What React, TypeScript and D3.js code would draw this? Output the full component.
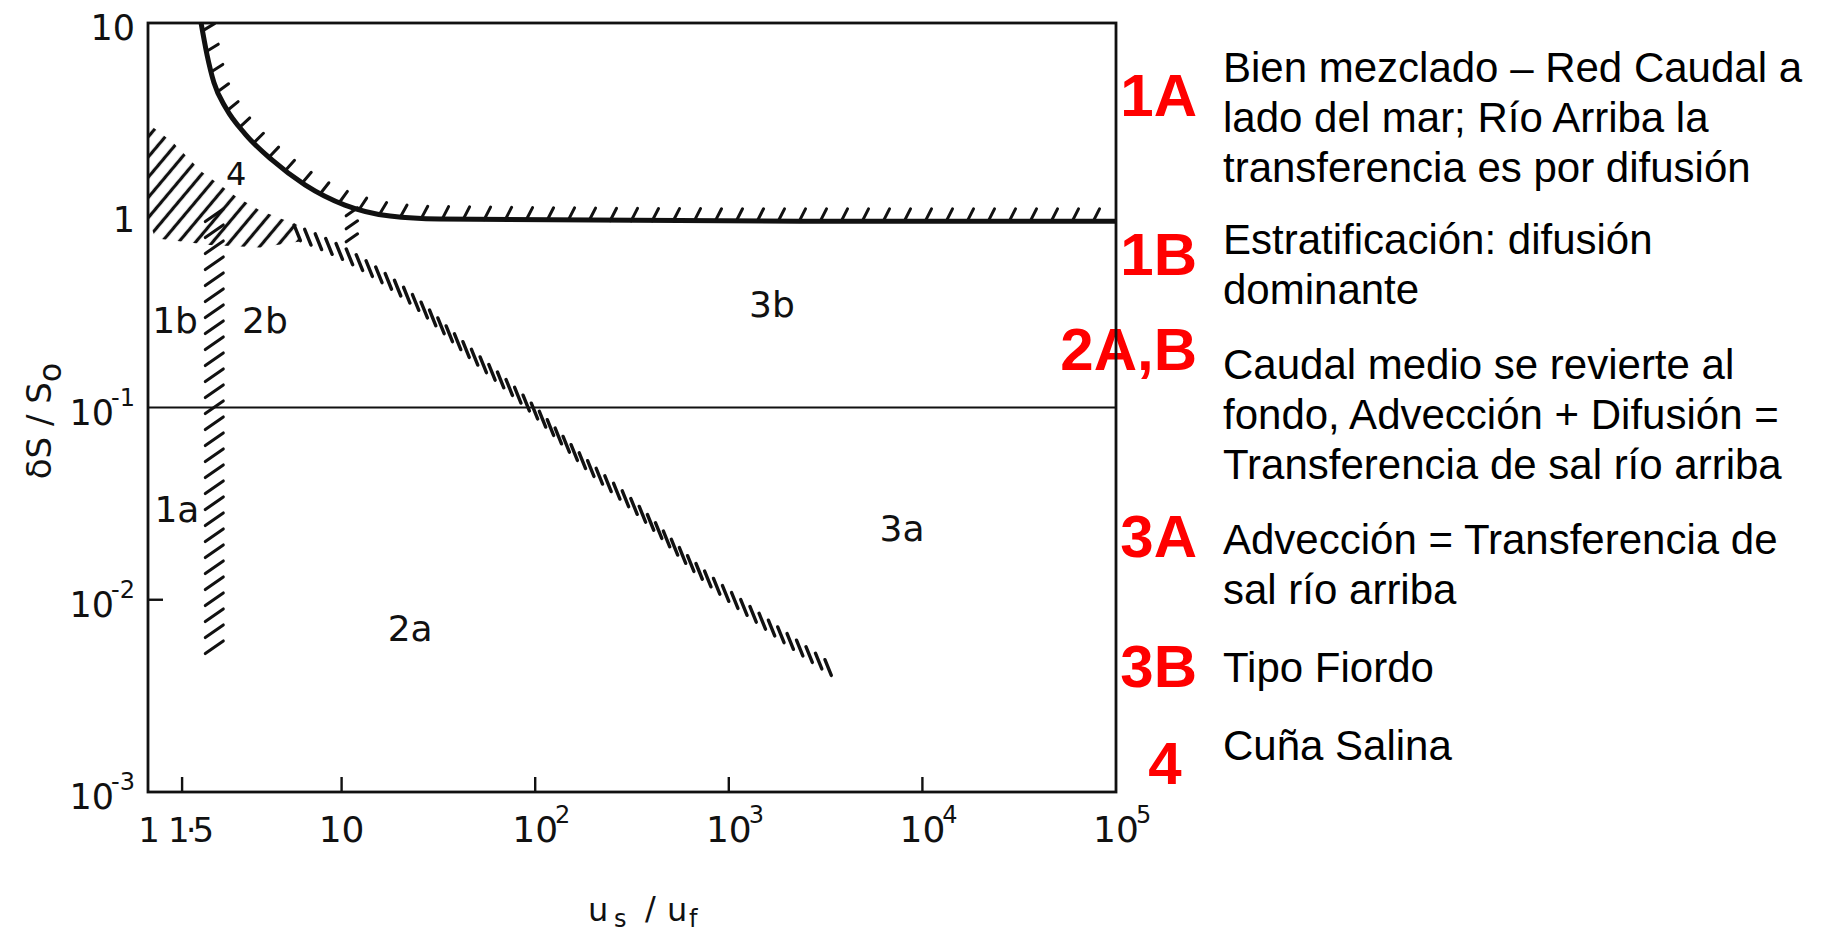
import { useEffect, useRef } from "react";
import * as d3 from "d3";

// axis ticks
const xTickValues = [1, 1.5, 10, 100, 1000, 10000, 100000];
const xTickBase = ["1", "1·5", "10", "10", "10", "10", "10"];
const xTickExp = ["", "", "", "2", "3", "4", "5"];
const yTickValues = [10, 1, 0.1, 0.01, 0.001];
const yTickBase = ["10", "1", "10", "10", "10"];
const yTickExp = ["", "", "-1", "-2", "-3"];

// bold boundary, hatched on its upper side
const upperX = [1.88, 2.02, 2.19, 2.53, 3.17, 4.37, 6.47, 10.4, 17.8, 32, 2330, 100000];
const upperY = [10, 6.8, 4.9, 3.6, 2.65, 1.94, 1.44, 1.13, 0.99, 0.955, 0.93, 0.93];

// diagonal hatched band
const bandX = [5.9, 10.9, 22, 44, 95, 175, 348, 700, 1400, 3300];
const bandY = [0.81, 0.61, 0.38, 0.2, 0.1, 0.053, 0.0286, 0.0141, 0.0081, 0.0044];

// salt wedge hatched area: upper edge, then lower edge back to the axis
const wedgeUpperX = [1, 1.35, 1.9, 2.88, 3.79, 6.1];
const wedgeUpperY = [3.0, 2.38, 1.68, 1.24, 1.06, 0.88];
const wedgeLowerX = [6.1, 3.79, 2.09, 1.09, 1];
const wedgeLowerY = [0.73, 0.68, 0.7, 0.76, 0.97];

// vertical hatched boundary and short link near us/uf = 10
const splitX = 2.2;
const splitY = [1.0, 0.0052];
const linkX = 11.3;
const linkY = [1.08, 0.72];
const midLineY = 0.1;

// region labels
const regionNames = ["4", "1b", "2b", "1a", "2a", "3b", "3a"];
const regionX = [2.85, 1.38, 4.02, 1.41, 22.6, 1670, 7850];
const regionY = [1.64, 0.285, 0.285, 0.0293, 0.00705, 0.345, 0.0236];

// legend
const legendKeys = ["1A", "1B", "2A,B", "3A", "3B", "4"];
const legendText = [
    ["Bien mezclado – Red Caudal a", "lado del mar; Río Arriba la", "transferencia es por difusión"],
    ["Estratificación: difusión", "dominante"],
    ["Caudal medio se revierte al", "fondo, Advección + Difusión =", "Transferencia de sal río arriba"],
    ["Advección = Transferencia de", "sal río arriba"],
    ["Tipo Fiordo"],
    ["Cuña Salina"],
];
const legendKeyY = [95, 254, 349, 536, 666, 763];
const legendTextY = [67, 239, 364, 539, 667, 745];

const FONT = "'Liberation Sans', Arial, sans-serif";
const DRAW_FONT = "'DejaVu Sans', sans-serif";

type Mark = [number, number, number, number];

function marksAlong(
    node: SVGPathElement,
    step: number,
    start: number,
    fn: (px: number, py: number, tx: number, ty: number) => Mark
): Mark[] {
    const L = node.getTotalLength();
    const out: Mark[] = [];
    for (let s = start; s <= L; s += step) {
        const a = node.getPointAtLength(Math.max(0, s - 1));
        const b = node.getPointAtLength(Math.min(L, s + 1));
        const p = node.getPointAtLength(s);
        let tx = b.x - a.x;
        let ty = b.y - a.y;
        const n = Math.hypot(tx, ty) || 1;
        tx /= n;
        ty /= n;
        out.push(fn(p.x, p.y, tx, ty));
    }
    return out;
}

export default function App() {
    const svgRef = useRef<SVGSVGElement | null>(null);

    useEffect(() => {
        if (!svgRef.current) return;
        const svg = d3.select(svgRef.current);
        svg.selectAll("*").remove();

        const x = d3.scaleLog().domain([1, 1e5]).range([148, 1116]);
        const y = d3.scaleLog().domain([1e-3, 10]).range([792, 23]);

        const line = d3
            .line<[number, number]>()
            .x((d) => x(d[0]))
            .y((d) => y(d[1]));

        const drawMarks = (g: any, marks: Mark[], width: number) => {
            g.selectAll(null)
                .data(marks)
                .enter()
                .append("line")
                .attr("x1", (d: Mark) => d[0])
                .attr("y1", (d: Mark) => d[1])
                .attr("x2", (d: Mark) => d[2])
                .attr("y2", (d: Mark) => d[3])
                .attr("stroke", "#111")
                .attr("stroke-width", width)
                .attr("stroke-linecap", "round");
        };

        // Legend (drawn first, the frame runs over it)
        const legend = svg.append("g");
        legendKeys.forEach((k, i) => {
            legend
                .append("text")
                .attr("x", k === "4" ? 1165 : 1197)
                .attr("y", legendKeyY[i])
                .attr("dominant-baseline", "central")
                .attr("text-anchor", k === "4" ? "middle" : "end")
                .attr("font-family", FONT)
                .attr("font-weight", "bold")
                .attr("font-size", 60)
                .attr("fill", "#ff0000")
                .text(k);
            legendText[i].forEach((t, j) => {
                legend
                    .append("text")
                    .attr("x", 1223)
                    .attr("y", legendTextY[i] + j * 50)
                    .attr("dominant-baseline", "central")
                    .attr("font-family", FONT)
                    .attr("font-size", 42)
                    .attr("fill", "#000")
                    .text(t);
            });
        });

        // Frame and the 10^-1 line
        svg.append("rect")
            .attr("x", x(1))
            .attr("y", y(10))
            .attr("width", x(1e5) - x(1))
            .attr("height", y(1e-3) - y(10))
            .attr("fill", "none")
            .attr("stroke", "#111")
            .attr("stroke-width", 2.8);

        svg.append("line")
            .attr("x1", x(1))
            .attr("x2", x(1e5))
            .attr("y1", y(midLineY))
            .attr("y2", y(midLineY))
            .attr("stroke", "#111")
            .attr("stroke-width", 2.2);

        // Ticks
        const inner = xTickValues.filter((v) => v > 1 && v < 1e5);
        svg.selectAll(".xt")
            .data(inner)
            .enter()
            .append("line")
            .attr("x1", (d) => x(d))
            .attr("x2", (d) => x(d))
            .attr("y1", y(1e-3))
            .attr("y2", y(1e-3) - 15)
            .attr("stroke", "#111")
            .attr("stroke-width", 2.4);
        svg.append("line")
            .attr("x1", x(1))
            .attr("x2", x(1) + 15)
            .attr("y1", y(0.01))
            .attr("y2", y(0.01))
            .attr("stroke", "#111")
            .attr("stroke-width", 2.4);

        // Tick labels
        xTickValues.forEach((v, i) => {
            if (v === 1.5) {
                svg.append("text")
                    .attr("x", x(v) - 14)
                    .attr("y", 842)
                    .attr("font-family", DRAW_FONT)
                    .attr("font-size", 34)
                    .attr("letter-spacing", -4)
                    .attr("fill", "#111")
                    .text(xTickBase[i]);
                return;
            }
            const base = svg
                .append("text")
                .attr("x", x(v) + (v === 1 ? 1 : 0))
                .attr("y", 842)
                .attr("text-anchor", "middle")
                .attr("font-family", DRAW_FONT)
                .attr("font-size", v === 1 ? 34 : 36)
                .attr("fill", "#111")
                .text(xTickBase[i]);
            if (xTickExp[i]) {
                const w = (base.node() as SVGTextElement).getComputedTextLength();
                svg.append("text")
                    .attr("x", x(v) + w / 2 - 3)
                    .attr("y", 823)
                    .attr("font-family", DRAW_FONT)
                    .attr("font-size", 24)
                    .attr("fill", "#111")
                    .text(xTickExp[i]);
            }
        });

        yTickValues.forEach((v, i) => {
            const t = svg
                .append("text")
                .attr("x", 135)
                .attr("y", y(v) + 17)
                .attr("text-anchor", "end")
                .attr("font-family", DRAW_FONT)
                .attr("font-size", 35)
                .attr("fill", "#111");
            t.append("tspan").text(yTickBase[i]);
            if (yTickExp[i]) {
                t.append("tspan")
                    .attr("dy", -19)
                    .attr("dx", -3)
                    .attr("font-size", 24)
                    .text(yTickExp[i]);
            }
        });

        // Axis titles
        const yl = svg
            .append("text")
            .attr("transform", "translate(51,421) rotate(-90)")
            .attr("text-anchor", "middle")
            .attr("font-family", DRAW_FONT)
            .attr("font-size", 34)
            .attr("fill", "#111");
        yl.append("tspan").text("δS / S");
        yl.append("tspan").attr("dy", 10).attr("font-size", 32).text("o");

        const xl = svg
            .append("g")
            .attr("font-family", DRAW_FONT)
            .attr("fill", "#111");
        xl.append("text").attr("x", 588).attr("y", 921).attr("font-size", 32).text("u");
        xl.append("text").attr("x", 614).attr("y", 927).attr("font-size", 24).text("s");
        xl.append("text").attr("x", 645).attr("y", 919).attr("font-size", 32).text("/");
        xl.append("text").attr("x", 667).attr("y", 921).attr("font-size", 32).text("u");
        xl.append("text").attr("x", 689).attr("y", 927).attr("font-size", 24).text("f");

        // Salt-wedge hatched area
        const defs = svg.append("defs");
        const pat = defs
            .append("pattern")
            .attr("id", "wedgeHatch")
            .attr("patternUnits", "userSpaceOnUse")
            .attr("width", 13)
            .attr("height", 13)
            .attr("patternTransform", "rotate(40)");
        pat.append("line")
            .attr("x1", 6.5)
            .attr("x2", 6.5)
            .attr("y1", 0)
            .attr("y2", 13)
            .attr("stroke", "#111")
            .attr("stroke-width", 3.2);

        const wedgePts: [number, number][] = [
            ...wedgeUpperX.map((v, i) => [v, wedgeUpperY[i]] as [number, number]),
            ...wedgeLowerX.map((v, i) => [v, wedgeLowerY[i]] as [number, number]),
        ];
        svg.append("path")
            .attr("d", line(wedgePts) + "Z")
            .attr("fill", "url(#wedgeHatch)")
            .attr("stroke", "none");

        const g = svg.append("g");

        // Bold upper boundary with hatch on the upper side
        const upperPts = upperX.map((v, i) => [v, upperY[i]] as [number, number]);
        const upperPath = svg
            .append("path")
            .attr("d", line.curve(d3.curveMonotoneX)(upperPts) as string)
            .attr("fill", "none")
            .attr("stroke", "#111")
            .attr("stroke-width", 5);
        const upperMarks = marksAlong(upperPath.node() as SVGPathElement, 21, 8, (px, py, tx, ty) => {
            const a = Math.atan2(tx, ty);
            const m = 0.4 * a + 0.6 * (Math.PI / 4);
            return [px, py, px + 14 * Math.cos(m), py - 14 * Math.sin(m)];
        });
        drawMarks(g, upperMarks.filter((d) => d[0] < x(1e5) - 10), 3);

        // Diagonal band
        const bandPts = bandX.map((v, i) => [v, bandY[i]] as [number, number]);
        const bandPath = svg
            .append("path")
            .attr("d", line.curve(d3.curveMonotoneX)(bandPts) as string)
            .attr("fill", "none")
            .attr("stroke", "none");
        const ca = Math.cos((68 * Math.PI) / 180);
        const sa = Math.sin((68 * Math.PI) / 180);
        const bandMarks = marksAlong(bandPath.node() as SVGPathElement, 11.5, 0, (px, py) => [
            px - 8.5 * ca,
            py - 8.5 * sa,
            px + 8.5 * ca,
            py + 8.5 * sa,
        ]);
        drawMarks(g, bandMarks, 3.4);

        // Vertical hatched boundary
        const cb = Math.cos((35 * Math.PI) / 180);
        const sb = Math.sin((35 * Math.PI) / 180);
        const splitPath = svg
            .append("path")
            .attr("d", line.curve(d3.curveLinear)(splitY.map((v) => [splitX, v] as [number, number])) as string)
            .attr("stroke", "none");
        drawMarks(
            g,
            marksAlong(splitPath.node() as SVGPathElement, 16, 0, (px, py) => [
                px - 11 * cb,
                py + 11 * sb,
                px + 11 * cb,
                py - 11 * sb,
            ]),
            3
        );

        const linkPath = svg
            .append("path")
            .attr("d", line(linkY.map((v) => [linkX, v] as [number, number])) as string)
            .attr("stroke", "none");
        drawMarks(
            g,
            marksAlong(linkPath.node() as SVGPathElement, 13, 3, (px, py) => [
                px - 7 * cb,
                py + 7 * sb,
                px + 7 * cb,
                py - 7 * sb,
            ]),
            3
        );

        // Region labels
        svg.selectAll(".region")
            .data(regionNames)
            .enter()
            .append("text")
            .attr("x", (d, i) => x(regionX[i]))
            .attr("y", (d, i) => y(regionY[i]))
            .attr("text-anchor", "middle")
            .attr("dominant-baseline", "central")
            .attr("font-family", DRAW_FONT)
            .attr("font-size", (d) => (d === "4" ? 32 : 36))
            .attr("fill", "#111")
            .text((d) => d);
    }, []);

    return (
        <svg
            ref={svgRef}
            width={1826}
            height={935}
            style={{ position: "absolute", left: 0, top: 0, background: "#fff" }}
        />
    );
}
